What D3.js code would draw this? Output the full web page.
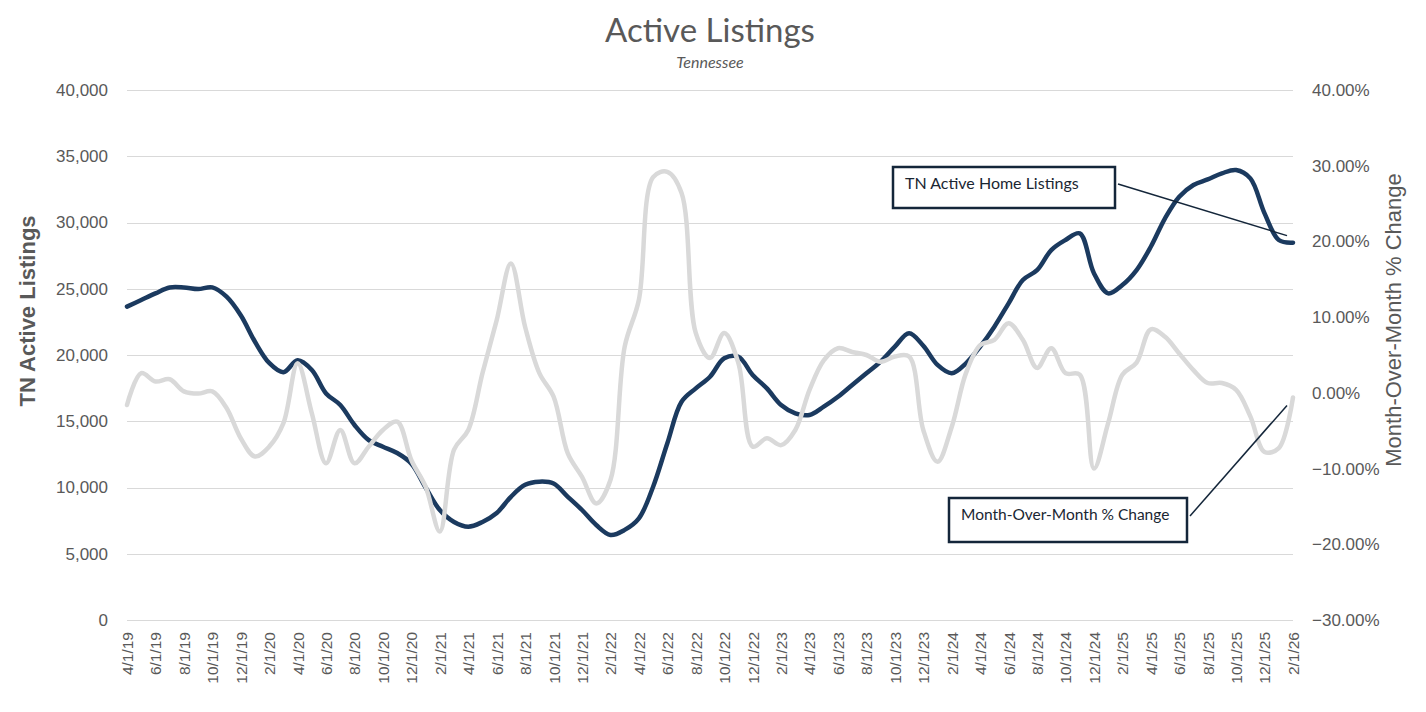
<!DOCTYPE html>
<html>
<head>
<meta charset="utf-8">
<script src="https://cdn.jsdelivr.net/npm/d3@7"></script>
<style>
  body { margin: 0; background: #fff; }
  svg { display: block; }
</style>
</head>
<body>
<svg id="chart" width="1426" height="712"></svg>
<script>
// monthly categories, 4/1/19 .. 2/1/26
let firstMonth = new Date(2019, 3, 1)
let lastMonth = new Date(2026, 1, 1)

// TN active home listings
let listings = [
  23650, 24150, 24650, 25100, 25100, 24980, 25100, 24400, 23000, 21000,
  19400, 18700, 19600, 18870, 17100, 16230, 14720, 13580, 13080, 12600,
  11800, 10000, 8300, 7400, 7040, 7400, 8070, 9300, 10200, 10440,
  10300, 9300, 8300, 7170, 6420, 6800, 7670, 10060, 13340, 16470,
  17480, 18360, 19750, 19870, 18490, 17480, 16230, 15600, 15470, 16100,
  16850, 17740, 18620, 19500, 20630, 21640, 20700, 19250, 18620, 19370,
  20630, 22140, 23900, 25660, 26400, 27920, 28680, 29180, 26170, 24650,
  25280, 26410, 28170, 30310, 31940, 32830, 33250, 33710, 33960, 33330,
  30690, 28680, 28480
]

// month-over-month % change
let momChange = [
  -1.6, 2.6, 1.5, 1.8, 0.2, -0.1, 0.2, -2.0, -6.0, -8.4,
  -7.1, -4.0, 3.9, -2.7, -9.3, -4.9, -9.3, -7.1, -4.9, -3.8,
  -8.9, -12.4, -18.3, -7.5, -4.9, 2.6, 9.6, 17.1, 8.7, 2.6,
  -0.5, -8.0, -11.1, -14.6, -11.5, 6.1, 12.3, 28.5, 29.2, 26.4,
  7.9, 4.6, 7.9, 3.9, -7.1, -6.0, -6.9, -4.9, 0.4, 4.3,
  5.9, 5.4, 5.0, 4.1, 4.8, 4.8, -4.9, -9.1, -4.5, 2.6,
  6.3, 7.0, 9.2, 7.0, 3.3, 5.9, 2.6, 2.4, -10.0, -4.0,
  2.4, 4.0, 8.4, 7.4, 5.2, 3.0, 1.3, 1.3, 0.4, -3.1,
  -7.8, -7.3, -0.6
]

let leftTicks = [0, 5000, 10000, 15000, 20000, 25000, 30000, 35000, 40000]
let rightTicks = [-0.3, -0.2, -0.1, 0, 0.1, 0.2, 0.3, 0.4]

let months = d3.timeMonth.range(firstMonth, d3.timeMonth.offset(lastMonth, 1))
let fmtDate = d3.timeFormat('%-m/%-d/%y')
let labels = months.map(fmtDate)

let svg = d3.select('#chart')
let grey = '#595959'
let navy = '#1b3a5f'

let plotL = 127, plotR = 1293, plotT = 90, plotB = 620

let x = d3.scalePoint()
          .domain(labels)
          .range([plotL, plotR])
let yLeft = d3.scaleLinear().domain([0, 40000]).range([plotB, plotT])
let yRight = d3.scaleLinear().domain([-0.3, 0.4]).range([plotB, plotT])

svg.append('rect').attr('width', 1426).attr('height', 712).attr('fill', '#fff')

// gridlines
svg.append('g')
   .selectAll('line')
   .data(leftTicks)
   .enter()
   .append('line')
   .attr('x1', plotL)
   .attr('x2', plotR)
   .attr('y1', (d)=> Math.round(yLeft(d)) + 0.5)
   .attr('y2', (d)=> Math.round(yLeft(d)) + 0.5)
   .attr('stroke', '#d9d9d9')
   .attr('stroke-width', 1)

// left axis
let leftAxis = svg.append('g')
   .attr('transform', 'translate(' + plotL + ',0)')
   .call(d3.axisLeft(yLeft).tickValues(leftTicks).tickSize(0).tickPadding(19).tickFormat(d3.format(',')))
leftAxis.select('.domain').remove()
leftAxis.selectAll('text')
   .attr('fill', grey)
   .style('font-family', '"Liberation Sans", Arial, sans-serif')
   .style('font-size', '17px')

// right axis
let rightAxis = svg.append('g')
   .attr('transform', 'translate(' + plotR + ',0)')
   .call(d3.axisRight(yRight).tickValues(rightTicks).tickSize(0).tickPadding(19).tickFormat(d3.format('.2%')))
rightAxis.select('.domain').remove()
rightAxis.selectAll('text')
   .attr('fill', grey)
   .style('font-family', '"Liberation Sans", Arial, sans-serif')
   .style('font-size', '17px')

// bottom axis, every second month
let bottomAxis = svg.append('g')
   .attr('transform', 'translate(0,' + plotB + ')')
   .call(d3.axisBottom(x).tickValues(labels.filter((d, i)=> i % 2 === 0)).tickSize(0))
bottomAxis.select('.domain').remove()
bottomAxis.selectAll('text')
   .attr('fill', grey)
   .attr('transform', 'rotate(-90)')
   .attr('x', -12)
   .attr('y', 0)
   .attr('dy', '0.35em')
   .attr('text-anchor', 'end')
   .style('font-family', '"Liberation Sans", Arial, sans-serif')
   .style('font-size', '15.5px')

// lines
let listingLine = d3.line()
   .x((d, i)=> x(labels[i]))
   .y((d)=> yLeft(d))
   .curve(d3.curveCatmullRom.alpha(0.5))

let momLine = d3.line()
   .x((d, i)=> x(labels[i]))
   .y((d)=> yRight(d / 100))
   .curve(d3.curveCatmullRom.alpha(0.5))

svg.append('path')
   .datum(listings)
   .attr('d', listingLine)
   .attr('fill', 'none')
   .attr('stroke', navy)
   .attr('stroke-width', 4.5)
   .attr('stroke-linejoin', 'round')
   .attr('stroke-linecap', 'round')

svg.append('path')
   .datum(momChange)
   .attr('d', momLine)
   .attr('fill', 'none')
   .attr('stroke', '#d9d9d9')
   .attr('stroke-width', 4.5)
   .attr('stroke-linejoin', 'round')
   .attr('stroke-linecap', 'round')

// titles
svg.append('text')
   .attr('x', 710).attr('y', 42)
   .attr('text-anchor', 'middle')
   .attr('fill', grey)
   .style('font-family', 'Lato, "Open Sans", sans-serif')
   .style('font-size', '33px')
   .text('Active Listings')

svg.append('text')
   .attr('x', 710).attr('y', 68)
   .attr('text-anchor', 'middle')
   .attr('fill', grey)
   .style('font-family', 'Lato, "Open Sans", sans-serif')
   .style('font-style', 'italic')
   .style('font-size', '16px')
   .text('Tennessee')

svg.append('text')
   .attr('transform', 'translate(35,311) rotate(-90)')
   .attr('text-anchor', 'middle')
   .attr('fill', grey)
   .style('font-family', '"Liberation Sans", Arial, sans-serif')
   .style('font-weight', 'bold')
   .style('font-size', '22px')
   .text('TN Active Listings')

svg.append('text')
   .attr('transform', 'translate(1401,320) rotate(-90)')
   .attr('text-anchor', 'middle')
   .attr('fill', grey)
   .style('font-family', '"Liberation Sans", Arial, sans-serif')
   .style('font-size', '22px')
   .text('Month-Over-Month % Change')

// callouts
let last = labels.length - 1
let callouts = [
  {text: 'TN Active Home Listings', x: 893, y: 167, w: 222, h: 41, size: 16,
   from: [1118, 184], to: [x(labels[last]) - 6, yLeft(listings[last]) - 7]},
  {text: 'Month-Over-Month % Change', x: 949, y: 498, w: 238, h: 44, size: 15.5,
   from: [1190, 516], to: [x(labels[last]) - 6, yRight(momChange[last] / 100) + 8]}
]

callouts.forEach((c)=>{
  svg.append('line')
     .attr('x1', c.from[0]).attr('y1', c.from[1])
     .attr('x2', c.to[0]).attr('y2', c.to[1])
     .attr('stroke', '#14263a')
     .attr('stroke-width', 1.5)
  svg.append('rect')
     .attr('x', c.x).attr('y', c.y)
     .attr('width', c.w).attr('height', c.h)
     .attr('fill', '#fff')
     .attr('stroke', '#14263a')
     .attr('stroke-width', 2.5)
  svg.append('text')
     .attr('x', c.x + 12).attr('y', c.y + 22)
     .attr('fill', '#1a2632')
     .style('font-family', 'Lato, "Open Sans", sans-serif')
     .style('font-size', c.size + 'px')
     .text(c.text)
})
</script>
</body>
</html>
